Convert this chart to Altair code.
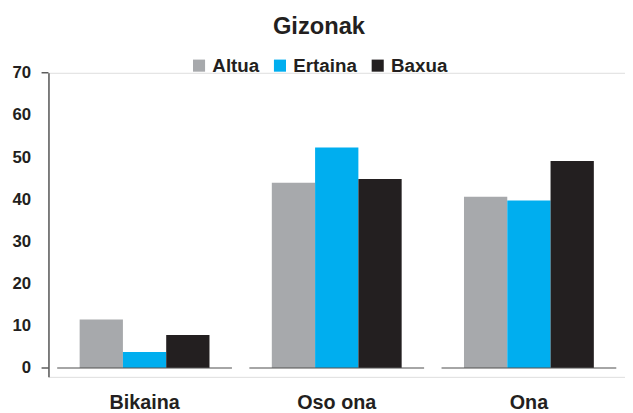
import altair as alt
import pandas as pd

categories = ["Bikaina", "Oso ona", "Ona"]
series = ["Altua", "Ertaina", "Baxua"]
altua = [11.5, 43.9, 40.6]
ertaina = [3.8, 52.3, 39.7]
baxua = [7.8, 44.8, 49.1]
colors = ["#A7A9AC", "#00AEEF", "#231F20"]
y_ticks = [0, 10, 20, 30, 40, 50, 60, 70]
y_end_ticks = [0, 70]

rows = []
for s, vals in zip(series, [altua, ertaina, baxua]):
    for c, v in zip(categories, vals):
        rows.append({"cat": c, "serie": s, "value": v})
df = pd.DataFrame(rows)
base_df = pd.DataFrame({"cat": categories, "zero": [0, 0, 0]})
tick_df = pd.DataFrame({"v": y_end_ticks})

FONT = "Liberation Sans"
TXT = "#231F20"

x_enc = alt.X("cat:N", sort=categories, title=None,
              scale=alt.Scale(paddingInner=0, paddingOuter=0),
              axis=alt.Axis(ticks=False, domain=False, labelAngle=0,
                            labelFont=FONT, labelFontWeight="bold",
                            labelFontSize=20, labelColor=TXT, labelPadding=16))
y_scale = alt.Scale(domain=[-2.1, 70], nice=False, zero=False)

bars = alt.Chart(df).mark_bar().encode(
    x=x_enc,
    xOffset=alt.XOffset("serie:N", sort=series,
                        scale=alt.Scale(paddingOuter=0.72, paddingInner=0)),
    y=alt.Y("value:Q", scale=y_scale, title=None,
            axis=alt.Axis(values=y_ticks, ticks=False, grid=False,
                          domainColor="#333333", domainWidth=1.2,
                          labelFont=FONT, labelFontWeight="bold",
                          labelFontSize=17, labelColor=TXT, labelPadding=18)),
    y2=alt.datum(0),
    color=alt.Color("serie:N", sort=series,
                    scale=alt.Scale(domain=series, range=colors),
                    legend=alt.Legend(title=None, orient="none",
                                      direction="horizontal", columns=3,
                                      legendX=143, legendY=-17,
                                      symbolType="square", symbolSize=150,
                                      symbolStrokeWidth=0, symbolOpacity=1,
                                      labelFont=FONT, labelFontWeight="bold",
                                      labelFontSize=19, labelColor=TXT,
                                      labelOffset=4, columnPadding=11)),
)

baseline = alt.Chart(base_df).mark_tick(
    orient="horizontal", size=177, thickness=1.5, color="#555555"
).encode(
    x=alt.X("cat:N", sort=categories),
    y=alt.Y("zero:Q", scale=y_scale),
)

end_ticks = alt.Chart(tick_df).mark_rule(color="#333333", strokeWidth=1.2).encode(
    x=alt.value(-7), x2=alt.value(0),
    y=alt.Y("v:Q", scale=y_scale),
)

chart = alt.layer(bars, baseline, end_ticks).properties(
    width=584, height=308,
    title=alt.TitleParams("Gizonak", font=FONT, fontSize=24, fontWeight="bold",
                          color=TXT, anchor="middle", dx=-18, offset=17),
    autosize=alt.AutoSizeParams(type="none"),
    padding={"left": 41, "top": 63, "right": 0, "bottom": 36},
).configure_view(stroke=None).configure(background="white")

chart.save("out.html", embed_options={"renderer": "svg", "actions": False})
